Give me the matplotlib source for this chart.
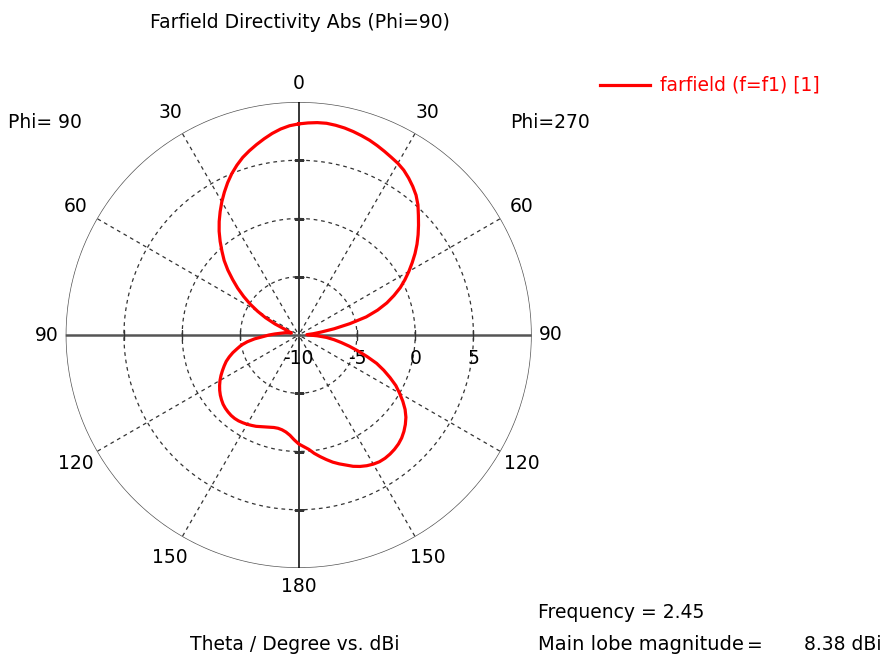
import numpy as np
import matplotlib
matplotlib.use("Agg")
import matplotlib.pyplot as plt
from matplotlib.lines import Line2D

# ---- data (angle clockwise from top, degrees; directivity in dBi) ----
angles = np.arange(0, 362.5, 2.5)
directivity = [
    8.12, 8.22, 8.30, 8.33, 8.28, 8.20, 8.08, 7.94, 7.79, 7.60,      # 0 - 22.5
    7.40, 7.20, 7.02, 6.78, 6.45, 6.08, 5.67, 5.15, 4.53, 3.95,      # 25 - 47.5
    3.38, 2.80, 2.19, 1.55, 0.92, 0.28, -0.38, -1.15, -1.95, -2.90,  # 50 - 72.5
    -4.00, -5.50, -6.90, -8.05, -8.75, -9.30, -9.10, -8.40, -7.60, -6.95,  # 75 - 97.5
    -6.30, -5.55, -4.75, -3.85, -2.88, -2.10, -1.35, -0.60, 0.00, 0.60,    # 100 - 122.5
    1.15, 1.60, 1.95, 2.25, 2.50, 2.68, 2.80, 2.88, 2.92, 2.90,      # 125 - 147.5
    2.80, 2.65, 2.45, 2.20, 1.88, 1.60, 1.30, 0.95, 0.60, 0.25,      # 150 - 172.5
    -0.15, -0.42, -0.65, -1.00, -1.36, -1.60, -1.74, -1.80, -1.78, -1.70,  # 175 - 197.5
    -1.60, -1.48, -1.35, -1.25, -1.15, -1.07, -1.00, -0.97, -0.98, -1.03,  # 200 - 222.5
    -1.10, -1.20, -1.35, -1.52, -1.72, -1.95, -2.20, -2.48, -2.78, -3.08,  # 225 - 247.5
    -3.38, -3.75, -4.15, -4.60, -5.00, -5.55, -6.20, -6.95, -7.45, -7.95,  # 250 - 272.5
    -8.35, -8.65, -8.85, -9.10, -9.35, -9.20, -9.00, -8.70, -7.75, -6.80,  # 275 - 297.5
    -5.93, -5.05, -4.23, -3.40, -2.60, -1.75, -0.95, -0.25, 0.49, 1.22,    # 300 - 322.5
    1.90, 2.55, 3.20, 3.82, 4.43, 5.00, 5.51, 5.98, 6.37, 6.74,      # 325 - 347.5
    7.10, 7.45, 7.75, 7.98, 8.12,                                    # 350 - 360
]

ring_values = [-5, 0, 5]
r_min, r_max = -10, 10
radial_labels = ["-10", "-5", "0", "5"]
radial_label_values = [-10, -5, 0, 5]
angle_ticks = [0, 30, 60, 90, 120, 150, 180, 210, 240, 270, 300, 330]
angle_labels = ["0", "30", "60", "90", "120", "150", "180", "150", "120", "90", "60", "30"]

title = "Farfield Directivity Abs (Phi=90)"
legend_label = "farfield (f=f1) [1]"
left_label = "Phi= 90"
right_label = "Phi=270"
xlabel = "Theta / Degree vs. dBi"
freq_text = "Frequency = 2.45"
lobe_text = "Main lobe magnitude"
lobe_eq = "="
lobe_value = "8.38 dBi"

# ---- figure ----
W, H = 887, 660
fig = plt.figure(figsize=(W / 100, H / 100), dpi=100)
FONT = dict(family="DejaVu Sans", size=13.5)

cx, cy, R = 298.7, 335.0, 233.0
ax = fig.add_axes([(cx - R) / W, 1 - (cy + R) / H, 2 * R / W, 2 * R / H],
                  projection="polar")
ax.set_theta_zero_location("N")
ax.set_theta_direction(-1)
ax.set_rlim(r_min, r_max)
ax.set_xticks([])
ax.set_yticks([])
ax.grid(False)
ax.spines["polar"].set_visible(False)
ax.patch.set_alpha(0)

full = np.linspace(0, 2 * np.pi, 721)
# dashed rings
for rv in ring_values:
    ax.plot(full, np.full_like(full, rv), color="#333333", lw=0.9,
            ls=(0, (3, 3)), zorder=1)
# outer circle
ax.plot(full, np.full_like(full, r_max), color="#555555", lw=1.0, zorder=1)
# dashed spokes
for a in angle_ticks:
    if a % 90 == 0:
        continue
    t = np.deg2rad(a)
    ax.plot([t, t], [r_min + 0.3, r_max], color="#333333", lw=0.9,
            ls=(0, (3, 3)), zorder=1)
# main axes lines
for a in (0, 180):
    t = np.deg2rad(a)
    ax.plot([t, t], [r_min, r_max], color="black", lw=1.1, zorder=2)
for a in (90, 270):
    t = np.deg2rad(a)
    ax.plot([t, t], [r_min, r_max], color="#555555", lw=1.8, zorder=2)
# ticks on axes at rings
for rv in ring_values:
    for a in (90, 270):
        ax.plot(np.deg2rad(a), rv, marker="|", ms=7, mew=1.0, color="#333333",
                zorder=3)
    for a in (0, 180):
        ax.plot(np.deg2rad(a), rv, marker="_", ms=7, mew=1.0, color="#333333",
                zorder=3)

# pattern
ax.plot(np.deg2rad(angles), directivity, color="#ff0000", lw=2.3, zorder=5,
        solid_joinstyle="round")

# angle labels
for a, lab in zip(angle_ticks, angle_labels):
    rr = 11.6 if a % 90 == 0 else 12.1
    ax.text(np.deg2rad(a), rr, lab, ha="center", va="center", clip_on=False,
            color="black", **FONT)

# radial labels under horizontal axis
for rv, lab in zip(radial_label_values, radial_labels):
    ax.annotate(lab, xy=(np.deg2rad(90), rv), xytext=(0, -17),
                textcoords="offset points", ha="center", va="center",
                annotation_clip=False, **FONT)

def fx(px):
    return px / W

def fy(py):
    return 1 - py / H

fig.text(fx(300), fy(22), title, ha="center", va="center", **FONT)
fig.add_artist(Line2D([fx(600), fx(650)], [fy(85), fy(85)], color="#ff0000",
                      lw=2.3))
fig.text(fx(660), fy(85), legend_label, ha="left", va="center", color="#ff0000",
         **FONT)
fig.text(fx(8), fy(122), left_label, ha="left", va="center", **FONT)
fig.text(fx(510), fy(122), right_label, ha="left", va="center", **FONT)
fig.text(fx(538), fy(612), freq_text, ha="left", va="center", **FONT)
fig.text(fx(538), fy(645), lobe_text, ha="left", va="center",
         family="DejaVu Sans", size=14)
fig.text(fx(755), fy(645), lobe_eq, ha="center", va="center", **FONT)
fig.text(fx(882), fy(645), lobe_value, ha="right", va="center", **FONT)
fig.text(fx(190), fy(645), xlabel, ha="left", va="center", **FONT)

fig.savefig("out.png", dpi=100)
